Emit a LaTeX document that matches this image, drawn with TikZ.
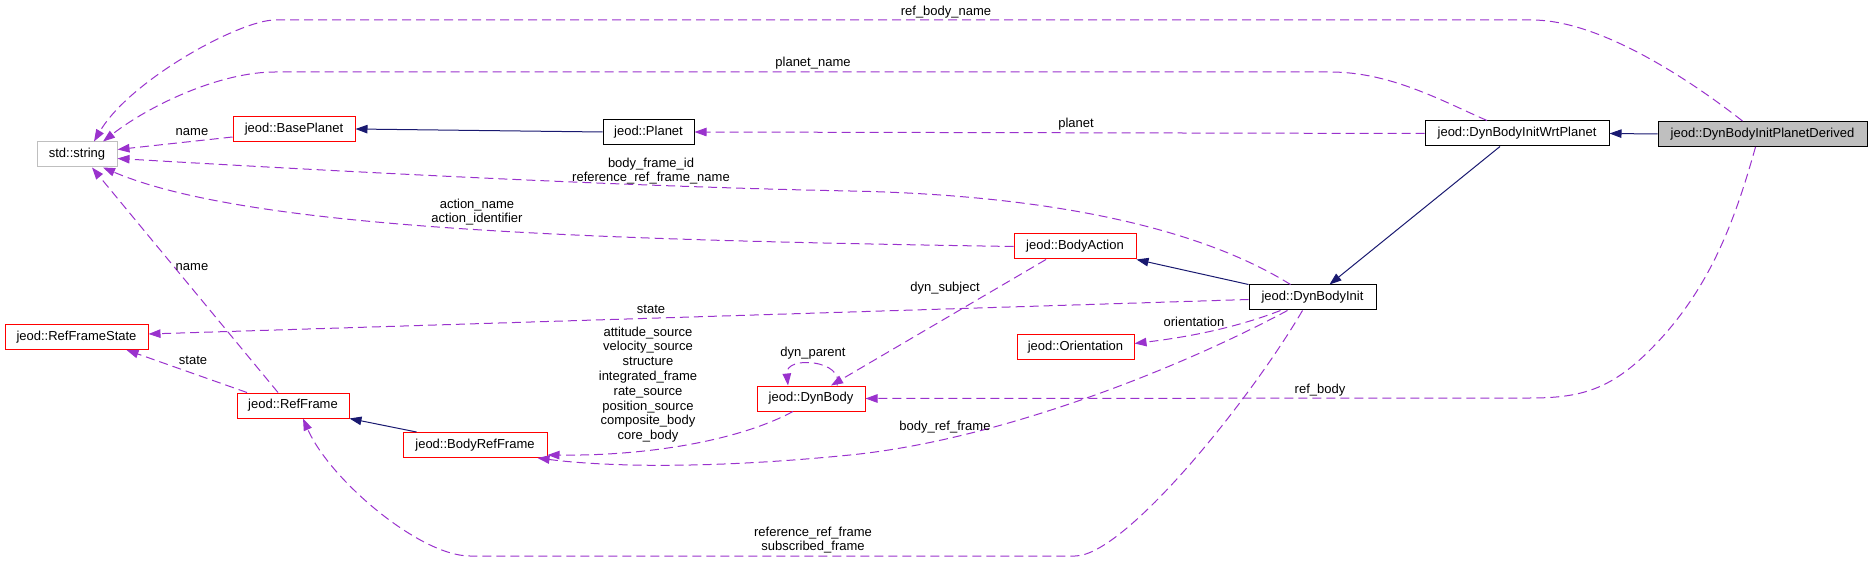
\documentclass[tikz,border=0pt]{standalone}
\usepackage{fontspec}
\setmainfont{Liberation Sans}
\usetikzlibrary{arrows.meta}

\definecolor{depcol}{HTML}{9A32CD}
\definecolor{inhcol}{HTML}{191970}
\definecolor{boxgray}{HTML}{BFBFBF}

\begin{document}
\begin{tikzpicture}[
    x=1pt, y=-1pt,
    every node/.style={font=\fontsize{13}{14.8}\selectfont},
    cls/.style={draw=black, line width=1pt, minimum height=25pt, inner sep=0pt},
    clsred/.style={cls, draw=red},
    clsext/.style={cls, draw=boxgray},
    clsself/.style={cls, fill=boxgray},
    inh/.style={draw=inhcol, line width=1pt, -{Triangle[length=12pt,width=8.5pt]}},
    dep/.style={draw=depcol, line width=1pt, dash pattern=on 9pt off 5pt,
        -{Triangle[length=12pt,width=8.5pt]}},
    lbl/.style={align=center, inner sep=0pt}
]
\useasboundingbox (0,0) rectangle (1872,561);

% classes
\node[clsext, minimum width=80pt] (str) at (77,154.5) {std::string};
\node[clsred, minimum width=122pt] (baseplanet) at (294,129) {jeod::BasePlanet};
\node[cls, minimum width=91pt] (planet) at (648.5,132) {jeod::Planet};
\node[cls, minimum width=184pt] (wrtplanet) at (1517,133.5) {jeod::DynBodyInitWrtPlanet};
\node[clsself, minimum width=209pt] (derived) at (1762.5,134) {jeod::DynBodyInitPlanetDerived};
\node[clsred, minimum width=143pt] (refstate) at (76.5,337) {jeod::RefFrameState};
\node[clsred, minimum width=112pt] (refframe) at (293,405.5) {jeod::RefFrame};
\node[clsred, minimum width=144pt] (bodyref) at (475,445) {jeod::BodyRefFrame};
\node[clsred, minimum width=122pt] (action) at (1075,246.5) {jeod::BodyAction};
\node[cls, minimum width=127pt] (init) at (1312.5,297.5) {jeod::DynBodyInit};
\node[clsred, minimum width=117pt] (orient) at (1075.5,347.5) {jeod::Orientation};
\node[clsred, minimum width=108pt] (dynbody) at (811,398.5) {jeod::DynBody};

% inheritance
\draw[inh] (planet.west) -- (baseplanet.east);
\draw[inh] (derived.west) -- (wrtplanet.east);
\draw[inh] ([xshift=-17pt]wrtplanet.south) -- ([xshift=17pt]init.north);
\draw[inh] (init.north west) -- (action.south east);
\draw[inh] ([xshift=14pt]bodyref.north west) -- (refframe.south east);

% members
\draw[dep] ([xshift=-20pt]derived.north) .. controls (1690,80) and (1600,20) .. (1532,20)
    -- (275,20) .. controls (240,20) and (130,80) .. ([xshift=17pt]str.north);
\draw[dep] ([xshift=-30pt]wrtplanet.north) .. controls (1440,100) and (1390,72) .. (1330,72)
    -- (275,72) .. controls (220,72) and (150,105) .. ([xshift=26pt]str.north);
\draw[dep] (wrtplanet.west) -- (planet.east);
\draw[dep] ([yshift=-8pt]baseplanet.west) -- ([yshift=5pt]str.east);
\draw[dep] ([xshift=-22pt]init.north) .. controls (1200,228) and (1050,195) .. (850,191)
    .. controls (650,187) and (400,175) .. ([yshift=-4pt]str.east);
\draw[dep] (action.west) .. controls (600,240) and (250,230) .. ([xshift=26pt]str.south);
\draw[dep] ([xshift=-15pt]refframe.north) -- ([xshift=15pt]str.south);
\draw[dep] ([yshift=-2pt]init.west) -- ([yshift=3pt]refstate.east);
\draw[dep] ([xshift=-46pt]refframe.north) -- ([xshift=50pt]refstate.south);
\draw[dep] ([xshift=-32pt]init.south) .. controls (1230,330) and (1180,338) .. ([yshift=4pt]orient.east);
\draw[dep] ([xshift=-29pt]action.south) -- ([xshift=20pt]dynbody.north);
\draw[dep] ([xshift=26pt]dynbody.north) .. controls (845,360) and (785,355) .. ([xshift=-23pt]dynbody.north);
\draw[dep] ([xshift=-7pt]derived.south) .. controls (1735,220) and (1710,290) .. (1650,350)
    .. controls (1610,390) and (1580,398) .. (1530,398) -- (dynbody.east);
\draw[dep] ([xshift=-25pt]init.south) .. controls (1180,368) and (1000,440) .. (850,455)
    .. controls (700,470) and (600,466) .. ([xshift=-10pt]bodyref.south east);
\draw[dep] ([xshift=-18pt]dynbody.south) .. controls (740,440) and (650,456) .. ([yshift=3pt]bodyref.south east);
\draw[dep] ([xshift=-10pt]init.south) .. controls (1250,400) and (1125,556) .. (1075,556)
    -- (470,556) .. controls (420,556) and (330,480) .. ([xshift=10pt]refframe.south);

% labels
\node[lbl] (lrefbodyname) at (946,12) {ref\_body\_name};
\node[lbl] (lplanetname) at (813,63) {planet\_name};
\node[lbl] (lplanet) at (1076,124) {planet};
\node[lbl] (lname) at (192,132) {name};
\node[lbl] (lframeid) at (651,171) {body\_frame\_id\\reference\_ref\_frame\_name};
\node[lbl] (laction) at (477,212) {action\_name\\action\_identifier};
\node[lbl] (lstate) at (651,309) {state};
\node[lbl] (lframename) at (192,267) {name};
\node[lbl] (lframestate) at (193,360) {state};
\node[lbl] (lorient) at (1194,322) {orientation};
\node[lbl] (lsubject) at (945,288) {dyn\_subject};
\node[lbl] (lparent) at (813,353) {dyn\_parent};
\node[lbl] (lsources) at (648,384.5) {attitude\_source\\velocity\_source\\structure\\integrated\_frame\\rate\_source\\position\_source\\composite\_body\\core\_body};
\node[lbl] (lrefbody) at (1320,390) {ref\_body};
\node[lbl] (lbodyref) at (945,427) {body\_ref\_frame};
\node[lbl] (lsubscribed) at (813,540) {reference\_ref\_frame\\subscribed\_frame};
\end{tikzpicture}
\end{document}
